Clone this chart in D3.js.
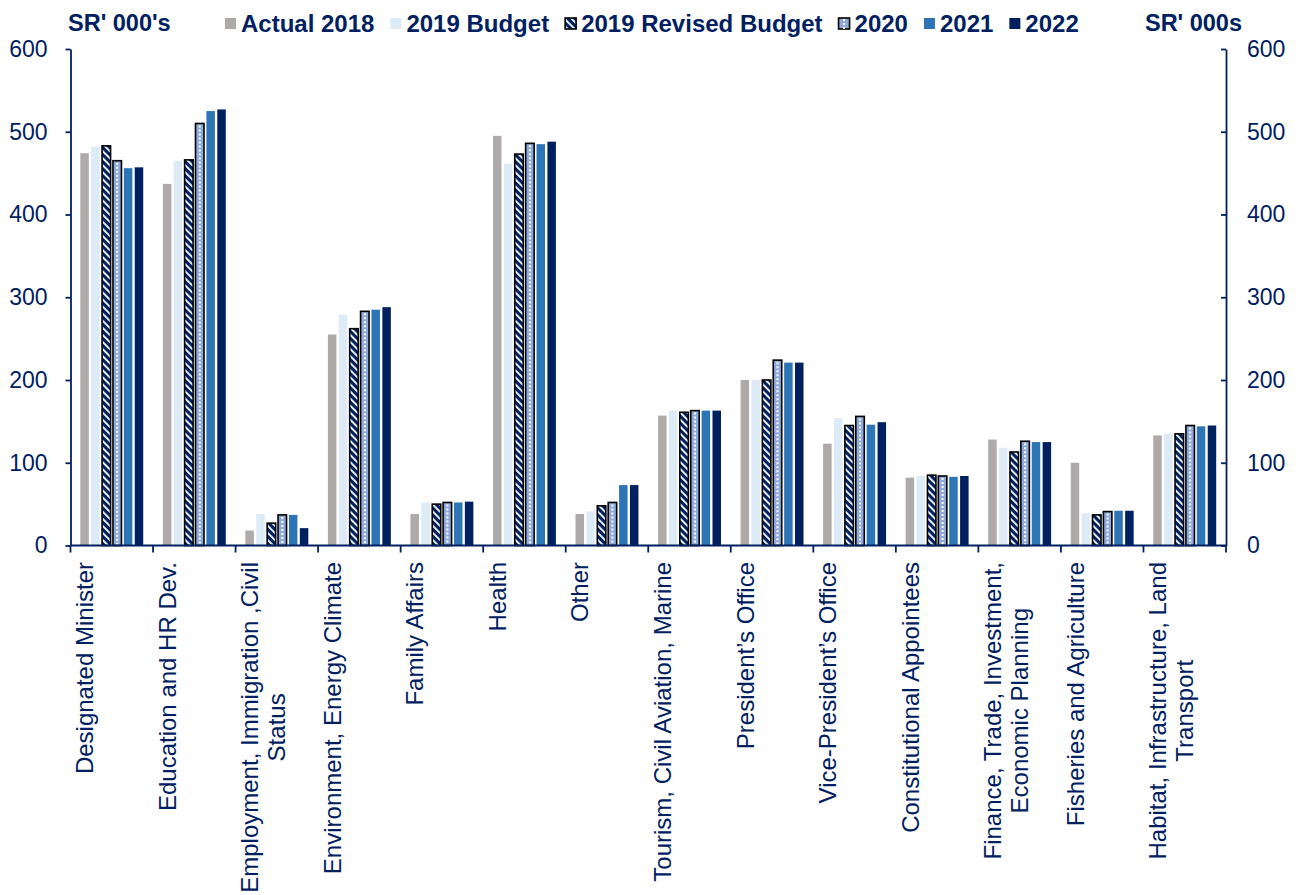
<!DOCTYPE html>
<html>
<head>
<meta charset="utf-8">
<script src="https://cdn.jsdelivr.net/npm/d3@7"></script>
<style>
  html, body { margin: 0; padding: 0; background: #fff; }
  svg text { font-family: "Liberation Sans", Arial, Helvetica, sans-serif; fill: #002060; }
</style>
</head>
<body>
<svg id="chart" width="1298" height="895"></svg>
<script>
// Ministry / portfolio groups (line breaks mark wrapped labels)
const categories = [
  "Designated Minister",
  "Education and HR Dev.",
  "Employment, Immigration ,Civil\nStatus",
  "Environment, Energy Climate",
  "Family Affairs",
  "Health",
  "Other",
  "Tourism, Civil Aviation, Marine",
  "President\u2019s Office",
  "Vice-President\u2019s Office",
  "Constitutional Appointees",
  "Finance, Trade, Investment,\nEconomic Planning",
  "Fisheries and Agriculture",
  "Habitat, Infrastructure, Land\nTransport"
];

const seriesNames = ["Actual 2018", "2019 Budget", "2019 Revised Budget", "2020", "2021", "2022"];

// Spending, SR' 000s
const actual2018  = [474, 437, 18, 255, 38, 495, 38, 157, 200, 123, 82, 128, 100, 133];
const budget2019  = [482, 465, 38, 279, 52, 461, 41, 163, 200, 154, 84, 118, 39, 135];
const revised2019 = [483, 466, 27, 262, 50, 473, 48, 161, 200, 145, 85, 113, 37, 135];
const proj2020    = [465, 510, 37, 283, 52, 486, 52, 163, 224, 156, 84, 126, 41, 145];
const proj2021    = [456, 525, 37, 285, 52, 485, 73, 163, 221, 146, 83, 125, 42, 144];
const proj2022    = [457, 527, 21, 288, 53, 488, 73, 163, 221, 149, 84, 125, 42, 145];

const yTicks = [0, 100, 200, 300, 400, 500, 600];

const seriesValues = [actual2018, budget2019, revised2019, proj2020, proj2021, proj2022];

const NAVY = "#002060";
const FONT = "\"Liberation Sans\", Arial, Helvetica, sans-serif";

const svg = d3.select("#chart");
const defs = svg.append("defs");

// Diagonal navy/white hatch for the revised budget
const hatch = defs.append("pattern")
  .attr("id", "hatchRevised")
  .attr("patternUnits", "userSpaceOnUse")
  .attr("width", 5).attr("height", 5)
  .attr("patternTransform", "rotate(-45)");
hatch.append("rect").attr("width", 5).attr("height", 5).attr("fill", NAVY);
hatch.append("rect").attr("x", 0).attr("width", 1.8).attr("height", 5).attr("fill", "#ffffff");

const styles = [
  { fill: "#AEAAAA", stroke: null },
  { fill: "#DDEBF7", stroke: null },
  { fill: "url(#hatchRevised)", stroke: "#000000" },
  { fill: "#8EA9DB", stroke: "#000000", dots: true },
  { fill: "#2E75B6", stroke: null },
  { fill: NAVY, stroke: null }
];

// Scales
const x = d3.scaleBand().domain(categories).range([70.5, 1226]).padding(0);
const xi = d3.scaleBand().domain(seriesNames).range([0, x.bandwidth()])
  .paddingInner(0.22).paddingOuter(0.9);
const y = d3.scaleLinear().domain([0, 600]).range([545.5, 49]);

// Bars
const rows = categories.map((c, ci) => ({
  cat: c,
  items: seriesNames.map((s, si) => ({ series: s, si, value: seriesValues[si][ci] }))
}));

const groups = svg.append("g").selectAll("g.cat")
  .data(rows).join("g")
  .attr("class", "cat")
  .attr("transform", d => `translate(${x(d.cat)},0)`);

groups.selectAll("rect.bar")
  .data(d => d.items).join("rect")
  .attr("class", "bar")
  .attr("x", d => xi(d.series))
  .attr("y", d => y(d.value))
  .attr("width", xi.bandwidth())
  .attr("height", d => y(0) - y(d.value))
  .attr("fill", d => styles[d.si].fill)
  .attr("stroke", d => styles[d.si].stroke || "none")
  .attr("stroke-width", 1.6);

// Dotted centre line on the 2020 bars
groups.selectAll("line.dots")
  .data(d => d.items.filter(it => styles[it.si].dots)).join("line")
  .attr("class", "dots")
  .attr("x1", d => xi(d.series) + xi.bandwidth() / 2)
  .attr("x2", d => xi(d.series) + xi.bandwidth() / 2)
  .attr("y1", d => y(d.value) + 2)
  .attr("y2", y(0) - 1)
  .attr("stroke", "#ffffff")
  .attr("stroke-width", 2)
  .attr("stroke-dasharray", "2,2");

// Y axes (left and right)
const leftAxis = svg.append("g")
  .attr("transform", `translate(${x.range()[0]},0)`)
  .call(d3.axisLeft(y).tickValues(yTicks).tickSize(5).tickSizeOuter(0).tickPadding(18));
const rightAxis = svg.append("g")
  .attr("transform", `translate(${x.range()[1]},0)`)
  .call(d3.axisRight(y).tickValues(yTicks).tickSize(-5).tickSizeOuter(0).tickPadding(21));

[leftAxis, rightAxis].forEach(ax => {
  ax.select(".domain").attr("stroke", NAVY).attr("stroke-width", 1.8);
  ax.selectAll(".tick line").attr("stroke", NAVY).attr("stroke-width", 1.8);
  ax.selectAll(".tick text")
    .style("font-family", FONT).style("font-size", "23px")
    .attr("fill", NAVY);
});

// Category axis: baseline plus boundary ticks
const xAxis = svg.append("g");
xAxis.append("line")
  .attr("x1", x.range()[0]).attr("x2", x.range()[1])
  .attr("y1", y(0)).attr("y2", y(0))
  .attr("stroke", NAVY).attr("stroke-width", 1.8);
const boundaries = categories.map(c => x(c)).concat([x.range()[1]]);
xAxis.selectAll("line.tk").data(boundaries).join("line")
  .attr("class", "tk")
  .attr("x1", d => d).attr("x2", d => d)
  .attr("y1", y(0)).attr("y2", y(0) + 7)
  .attr("stroke", NAVY).attr("stroke-width", 1.8);

// Rotated category labels, lines centred within each label block
const labelTop = 562;
const lineGap = 27;
categories.forEach(c => {
  const lines = c.split("\n");
  const g = svg.append("g");
  const texts = lines.map((ln, li) => g.append("text")
    .style("font-family", FONT).style("font-size", "24px")
    .attr("text-anchor", "middle")
    .text(ln));
  const widths = texts.map(t => t.node().getComputedTextLength());
  const W = d3.max(widths);
  const cx = x(c) + x.bandwidth() / 2;
  texts.forEach((t, li) => {
    const bx = cx - 18.5 + li * lineGap;
    const by = labelTop + W / 2;
    t.attr("transform", `translate(${bx},${by}) rotate(-90)`);
  });
});

// Unit labels
svg.append("text")
  .attr("x", 68).attr("y", 31)
  .style("font-family", FONT).style("font-size", "23.5px").style("font-weight", "bold")
  .text("SR' 000's");
svg.append("text")
  .attr("x", 1242).attr("y", 31)
  .attr("text-anchor", "end")
  .style("font-family", FONT).style("font-size", "23.5px").style("font-weight", "bold")
  .text("SR' 000s");

// Legend
const legend = svg.append("g");
let lx = 225;
seriesNames.forEach((s, si) => {
  const st = styles[si];
  legend.append("rect")
    .attr("x", lx).attr("y", 18).attr("width", 11).attr("height", 11)
    .attr("fill", st.fill)
    .attr("stroke", st.stroke || "none").attr("stroke-width", 1.6);
  if (st.dots) {
    legend.append("line")
      .attr("x1", lx + 5.5).attr("x2", lx + 5.5).attr("y1", 19).attr("y2", 29)
      .attr("stroke", "#fff").attr("stroke-width", 2).attr("stroke-dasharray", "2,2");
  }
  const t = legend.append("text")
    .attr("x", lx + 16).attr("y", 32)
    .style("font-family", FONT).style("font-size", "24px").style("font-weight", "bold")
    .text(s);
  lx = lx + 16 + t.node().getComputedTextLength() + 16;
});
</script>
</body>
</html>
